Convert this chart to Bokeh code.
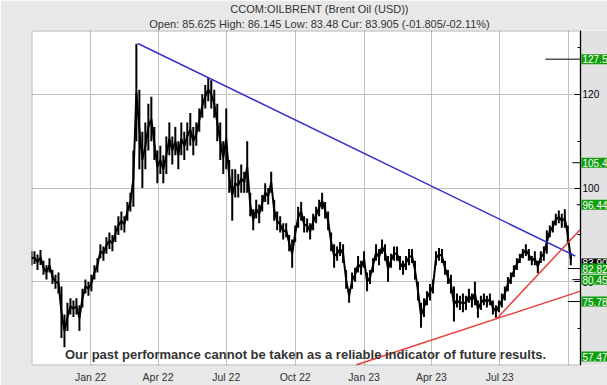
import pandas as pd
from bokeh.plotting import figure
from bokeh.models import Range1d, FixedTicker, DatetimeTickFormatter, Label, Title, BoxAnnotation
from bokeh.embed import file_html
from bokeh.resources import INLINE

TITLE = "CCOM:OILBRENT (Brent Oil (USD))"
SUBTITLE = "Open: 85.625 High: 86.145 Low: 83.48 Cur: 83.905 (-01.805/-02.11%)"
DISCLAIMER = "Our past performance cannot be taken as a reliable indicator of future results."

FIRST_BAR = "2021-10-14"
BAR_STEP_DAYS = 4
HIGH = [86.5, 86.5, 85.8, 86.8, 84.5, 83.5, 85.0, 82.5, 81.5, 82.0,
        79.0, 73.0, 75.5, 76.5, 76.0, 76.5, 75.0, 78.5, 80.5, 80.0,
        81.5, 83.5, 85.0, 88.0, 87.5, 89.5, 90.5, 90.0, 92.0, 94.0,
        95.0, 94.0, 97.0, 99.0, 108.0, 130.8, 121.0, 112.0, 114.0, 118.0,
        119.5, 113.0, 108.0, 109.0, 107.0, 111.0, 114.0, 111.0, 113.0, 110.0,
        114.0, 112.0, 114.0, 116.0, 113.0, 114.0, 117.0, 120.0, 122.0, 123.5,
        123.0, 121.0, 118.0, 114.0, 110.0, 117.0, 106.0, 104.0, 104.0, 103.0,
        105.0, 103.5, 110.0, 99.0, 95.5, 97.5, 96.5, 98.5, 101.0, 100.0,
        103.5, 97.5, 95.0, 94.0, 92.5, 92.5, 90.0, 89.0, 92.0, 96.0,
        97.0, 94.0, 93.5, 92.5, 94.5, 96.0, 97.5, 99.0, 97.0, 95.0,
        90.5, 88.0, 87.5, 88.5, 88.0, 82.5, 78.5, 82.0, 83.0, 85.5,
        84.5, 86.5, 82.0, 82.5, 85.0, 88.0, 87.0, 89.0, 88.0, 85.5,
        86.0, 87.5, 87.5, 85.5, 84.5, 85.5, 87.0, 87.0, 84.5, 80.0,
        75.5, 76.5, 78.0, 79.5, 80.5, 86.5, 87.2, 87.0, 84.5, 82.5,
        81.5, 79.0, 77.5, 77.0, 77.5, 77.0, 78.5, 77.5, 80.0, 76.0,
        77.0, 77.5, 77.0, 77.5, 76.0, 75.0, 76.0, 77.5, 79.0, 81.0,
        82.0, 83.5, 85.0, 86.0, 87.0, 88.0, 87.0, 85.5, 86.5, 84.5,
        86.5, 87.5, 91.0, 92.0, 93.0, 94.5, 95.2, 94.5, 95.5, 92.0,
        86.2]
LOW = [83.5, 83.8, 82.5, 83.6, 81.5, 80.5, 82.0, 79.5, 78.5, 77.5,
       68.0, 66.0, 69.5, 73.0, 72.5, 73.0, 69.5, 74.5, 77.5, 77.0,
       78.0, 80.5, 82.0, 85.0, 84.5, 86.0, 87.0, 86.5, 88.5, 90.0,
       91.0, 90.5, 93.0, 95.0, 96.0, 110.0, 104.0, 100.0, 104.0, 108.0,
       110.0, 106.0, 101.0, 103.0, 101.0, 103.0, 107.0, 105.0, 107.0, 104.0,
       107.0, 106.0, 108.0, 109.0, 107.0, 109.0, 112.0, 115.0, 117.0, 118.5,
       117.0, 115.0, 110.0, 106.0, 103.0, 104.0, 99.0, 93.0, 98.0, 98.0,
       99.0, 99.0, 99.0, 94.0, 91.0, 93.5, 92.5, 95.0, 97.0, 96.5,
       99.0, 93.0, 91.0, 90.5, 89.0, 89.5, 86.5, 83.0, 88.5, 91.5,
       93.0, 90.5, 90.5, 89.0, 91.0, 92.5, 94.0, 95.5, 93.5, 91.0,
       86.5, 83.0, 84.5, 85.5, 84.0, 78.5, 75.5, 78.5, 80.0, 82.0,
       81.5, 83.0, 78.0, 79.5, 82.0, 84.5, 83.5, 86.0, 84.5, 80.0,
       83.0, 84.5, 84.5, 82.5, 81.5, 82.5, 83.5, 84.0, 80.5, 76.0,
       70.2, 72.5, 75.0, 76.0, 77.5, 83.5, 84.5, 84.0, 81.5, 79.5,
       77.5, 71.5, 74.5, 74.0, 73.5, 74.0, 75.5, 74.5, 75.0, 72.3,
       74.0, 75.0, 74.5, 75.0, 73.0, 72.3, 73.5, 74.5, 76.0, 78.0,
       79.5, 81.0, 82.5, 84.0, 85.0, 85.5, 84.5, 83.5, 83.5, 81.8,
       84.0, 84.5, 86.0, 89.5, 90.5, 92.0, 92.5, 91.5, 91.5, 88.0,
       83.5]

TREND_BLUE_DATES = ["2022-03-05", "2023-10-10"]
TREND_BLUE_VALUES = [130.85, 85.5]
TREND_RED1_DATES = ["2022-12-22", "2023-10-17"]
TREND_RED1_VALUES = [62.3, 78.0]
TREND_RED2_DATES = ["2023-06-27", "2023-10-17"]
TREND_RED2_VALUES = [72.1, 91.2]

LEVELS = [127.5, 105.4, 96.44, 82.82, 80.45, 75.78, 57.47]
LEVEL_TEXT = ["127.5", "105.4", "96.44", "82.82", "80.45", "75.78", "57.47"]
LEVEL_MARK_DAYS = [47, 11, 5, 17, 11, 17, 0]
CURRENT = 83.905
CURRENT_TEXT = "83.90"

X_TICK_DATES = ["2022-01-01", "2022-04-01", "2022-07-01", "2022-10-01",
                "2023-01-01", "2023-04-01", "2023-07-01"]
X_GRID_DATES = X_TICK_DATES + ["2023-10-01"]
Y_TICKS = [80, 100, 120]
Y_MINOR = [70, 90, 110, 130]

X_START = pd.Timestamp("2021-10-14")
X_PLOT_END = pd.Timestamp("2023-10-17")   # right edge of the price area (axis line)
X_RIGHT = pd.Timestamp("2023-11-22")      # right edge of the label panel
Y_LO, Y_HI = 62.13, 133.62

FONT = "Liberation Sans"


def ms(d):
    return pd.Timestamp(d).value // 10**6


dates = pd.date_range(FIRST_BAR, periods=len(HIGH), freq=f"{BAR_STEP_DAYS}D")
mids = [(h + l) / 2 for h, l in zip(HIGH, LOW)]

p = figure(width=607, height=385, x_axis_type="datetime", y_axis_location="right",
           x_range=Range1d(X_START, X_RIGHT), y_range=Range1d(Y_LO, Y_HI),
           output_backend="svg", toolbar_location=None, title=None,
           min_border_left=31, min_border_right=0, min_border_top=29, min_border_bottom=20)
p.border_fill_color = "#e8e8e8"
p.background_fill_color = "white"
p.outline_line_color = None

p.add_layout(Title(text=SUBTITLE, align="center", offset=-16, standoff=2,
                   text_font=FONT, text_font_size="11px", text_font_style="normal",
                   text_color="#333333"), "above")
p.add_layout(Title(text=TITLE, align="center", offset=-16, standoff=0,
                   text_font=FONT, text_font_size="11px", text_font_style="normal",
                   text_color="#333333"), "above")

# right-hand label panel background
p.add_layout(BoxAnnotation(left=ms(X_PLOT_END), fill_color="#e2e2e2", fill_alpha=1,
                           line_color=None, level="underlay"))

p.xgrid.ticker = FixedTicker(ticks=[ms(d) for d in X_GRID_DATES])
p.xaxis.ticker = FixedTicker(ticks=[ms(d) for d in X_TICK_DATES])
p.xaxis.formatter = DatetimeTickFormatter(days="%b %y", months="%b %y", years="%b %y")
p.xgrid.grid_line_color = "#c0c0c0"
p.ygrid.grid_line_color = "#c0c0c0"
p.xaxis.axis_line_color = None
p.xaxis.major_tick_in = 0
p.xaxis.major_tick_out = 0
p.xaxis.minor_tick_out = 0
p.xaxis.major_label_standoff = 5
p.xaxis.major_label_text_font = FONT
p.xaxis.major_label_text_font_size = "10.5px"
p.xaxis.major_label_text_color = "#333333"

p.yaxis.fixed_location = ms(X_PLOT_END)
p.yaxis.ticker = FixedTicker(ticks=Y_TICKS, minor_ticks=Y_MINOR)
p.yaxis.major_tick_in = 6
p.yaxis.major_tick_out = 0
p.yaxis.minor_tick_in = 3
p.yaxis.minor_tick_out = 0
p.yaxis.axis_line_color = "black"
p.yaxis.major_label_standoff = 2
p.yaxis.major_label_text_font = FONT
p.yaxis.major_label_text_font_size = "10px"
p.yaxis.major_label_text_color = "black"

# price bars (high-low ranges) joined through their centres
p.segment(x0=dates, y0=LOW, x1=dates, y1=HIGH, line_color="black", line_width=2)
p.line(dates, mids, line_color="black", line_width=2)

# trend lines
p.line(pd.to_datetime(TREND_BLUE_DATES), TREND_BLUE_VALUES, line_color="#3333cc", line_width=1.5)
p.line(pd.to_datetime(TREND_RED1_DATES), TREND_RED1_VALUES, line_color="#e8403a", line_width=1.5)
p.line(pd.to_datetime(TREND_RED2_DATES), TREND_RED2_VALUES, line_color="#e8403a", line_width=1.5)

# level marks at the right edge of the price area
p.segment(x0=[X_PLOT_END - pd.Timedelta(days=d) for d in LEVEL_MARK_DAYS], y0=LEVELS,
          x1=[X_PLOT_END] * len(LEVELS), y1=LEVELS, line_color="black", line_width=1)

# border of the price area
p.add_layout(BoxAnnotation(right=ms(X_PLOT_END), fill_alpha=0, line_color="black",
                           line_width=2, level="overlay"))

p.add_layout(Label(x=274, y=11, x_units="screen", y_units="screen", text=DISCLAIMER,
                   text_font=FONT, text_font_size="13px",
                   text_font_style="bold", text_color="#333333",
                   text_align="center", text_baseline="middle"))

p.add_layout(Label(x=550, y=CURRENT, x_units="screen", y_units="data", text=CURRENT_TEXT,
                   text_font=FONT, text_font_size="10px", text_color="white",
                   text_align="left", text_baseline="middle",
                   background_fill_color="black", padding=1))
for v, t in zip(LEVELS, LEVEL_TEXT):
    yv = min(max(v, Y_LO + 1.9), Y_HI - 1.9)
    p.add_layout(Label(x=550, y=yv, x_units="screen", y_units="data", text=t,
                       text_font=FONT, text_font_size="10px", text_color="white",
                       text_align="left", text_baseline="middle",
                       background_fill_color="#0e9e0e", padding=1))

open("out.html", "w").write(file_html(p, INLINE))
